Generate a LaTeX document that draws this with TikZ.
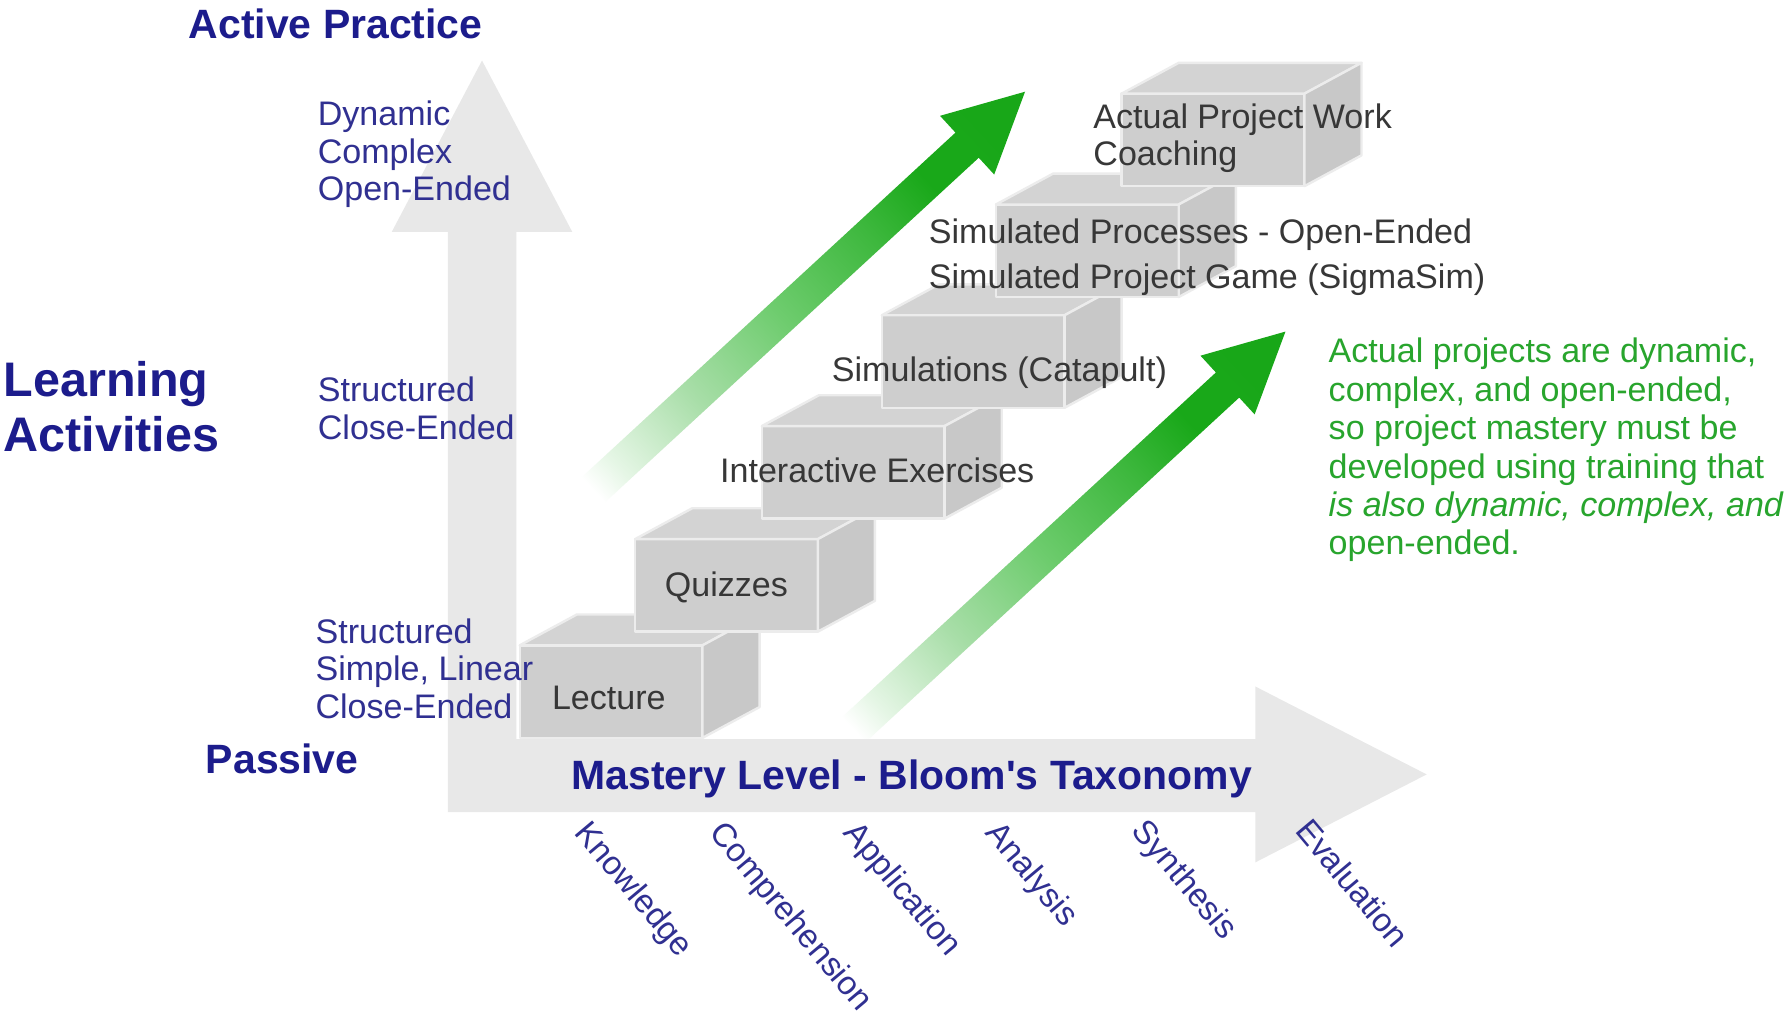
\documentclass[tikz,border=0pt]{standalone}
\usepackage{fontspec}
\setmainfont{Liberation Sans}[Ligatures=TeXOff]
\definecolor{titleblue}{RGB}{28,28,140}
\definecolor{labelblue}{RGB}{48,48,145}
\definecolor{boxtext}{RGB}{55,55,55}
\definecolor{greentext}{RGB}{40,165,45}
\definecolor{axisgray}{RGB}{232,232,232}
\definecolor{cubefront}{RGB}{206,206,206}
\definecolor{cubetop}{RGB}{211,211,211}
\definecolor{cubeside}{RGB}{200,200,200}
\definecolor{cubeedge}{RGB}{236,236,236}
\pgfdeclareverticalshading{greenfade}{100bp}{rgb(0bp)=(1,1,1); rgb(17bp)=(1,1,1);
  rgb(21bp)=(0.90,0.965,0.90); rgb(33bp)=(0.66,0.87,0.66); rgb(47bp)=(0.43,0.80,0.43);
  rgb(61bp)=(0.24,0.72,0.24); rgb(70bp)=(0.10,0.66,0.10); rgb(100bp)=(0.086,0.647,0.086)}
\tikzset{
  titletext/.style={font=\bfseries\fontsize{25.5}{30}\selectfont, text=titleblue, inner sep=0pt},
  bigtitle/.style={font=\bfseries\fontsize{30.2}{34.1}\selectfont, text=titleblue, inner sep=0pt, align=left},
  labtext/.style={font=\fontsize{21.2}{23.5}\selectfont, text=labelblue, inner sep=0pt, align=left},
  boxlab/.style={font=\fontsize{21.2}{23.1}\selectfont, text=boxtext, inner sep=0pt, align=left},
  greenlab/.style={font=\fontsize{21.2}{23.9}\selectfont, text=greentext, inner sep=0pt, align=left},
  taxo/.style={font=\fontsize{20.6}{24}\selectfont, text=labelblue, inner sep=0pt, rotate=-50, anchor=north west},
  cubeface/.style={draw=cubeedge, line width=1.5pt, line join=round},
  fadearrow/.style={shading=greenfade, shading angle=-47}
}
\newcommand\stepcube[2]{%
  \path[cubeface, fill=cubefront] (#1,#2) rectangle ++(160,-81);
  \path[cubeface, fill=cubetop] (#1,#2-81) -- ++(50,-27) -- ++(160,0) -- ++(-50,27) -- cycle;
  \path[cubeface, fill=cubeside] (#1+160,#2) -- ++(0,-81) -- ++(50,-27) -- ++(0,81) -- cycle;
}
\begin{document}
\begin{tikzpicture}[x=0.025cm, y=-0.025cm]
\useasboundingbox (0,0) rectangle (1568,893);
\fill[white] (0,0) rectangle (1568,893);
% green arrows
\coordinate (g1tail) at (516,432);
\coordinate (g1tip) at (897.4,80.3);
\shade[fadearrow] (526.2,443.0) -- (856.9,138.1) -- (870.4,152.8) -- (g1tip) -- (823.0,101.4)
  -- (836.5,116.1) -- (505.8,421.0) -- cycle;
\begin{scope}[shift={(228,210)}]
\coordinate (g2tail) at (516,432);
\coordinate (g2tip) at (897.4,80.3);
\shade[fadearrow] (526.2,443.0) -- (856.9,138.1) -- (870.4,152.8) -- (g2tip) -- (823.0,101.4)
  -- (836.5,116.1) -- (505.8,421.0) -- cycle;
\end{scope}
% gray axes
\fill[axisgray] (392,711) -- (392,203) -- (343,203) -- (422,53) -- (501,203) -- (452,203)
  -- (452,647) -- (1099,647) -- (1099,601) -- (1249,678) -- (1099,755) -- (1099,711) -- cycle;
% staircase cubes
\stepcube{455}{646}
\stepcube{556}{553}
\stepcube{667}{454}
\stepcube{772}{357}
\stepcube{872}{260}
\stepcube{982}{163}
% titles
\node[titletext, anchor=west] (active) at (165,21) {Active Practice};
\node[titletext, anchor=west] (passive) at (180,664) {Passive};
\node[bigtitle, anchor=west] (learning) at (3,356) {Learning\\Activities};
\node[titletext, anchor=west] (mastery) at (500,682) {Mastery Level - Bloom's Taxonomy};
% side labels
\node[labtext, anchor=west] (dyn) at (278,135) {Dynamic\\Complex\\Open-Ended};
\node[labtext, anchor=west] (struct) at (278,357.5) {Structured\\Close-Ended};
\node[labtext, anchor=west] (simple) at (276,585.5) {Structured\\Simple, Linear\\Close-Ended};
% box labels
\node[boxlab] (lecture) at (533,611) {Lecture};
\node[boxlab] (quiz) at (636,514) {Quizzes};
\node[boxlab] (inter) at (768,412) {Interactive Exercises};
\node[boxlab] (simul) at (875,326) {Simulations (Catapult)};
\node[boxlab, anchor=west, font=\fontsize{21.2}{28.2}\selectfont] (simproc) at (813,225)
  {Simulated Processes - Open-Ended\\Simulated Project Game (SigmaSim)};
\node[boxlab, anchor=west] (actual) at (957,121) {Actual Project Work\\Coaching};
% green note
\node[greenlab, anchor=west] (note) at (1163,394)
  {Actual projects are dynamic,\\complex, and open-ended,\\so project mastery must be\\developed using training that\\\textit{is also dynamic, complex, and}\\open-ended.};
% taxonomy levels
\node[taxo] (knowledge) at (518,716) {Knowledge};
\node[taxo] (compr) at (636,716) {Comprehension};
\node[taxo] (appl) at (754,716) {Application};
\node[taxo] (anal) at (878,716) {Analysis};
\node[taxo] (synth) at (1006,714) {Synthesis};
\node[taxo] (evalu) at (1149,714) {Evaluation};
\end{tikzpicture}
\end{document}
